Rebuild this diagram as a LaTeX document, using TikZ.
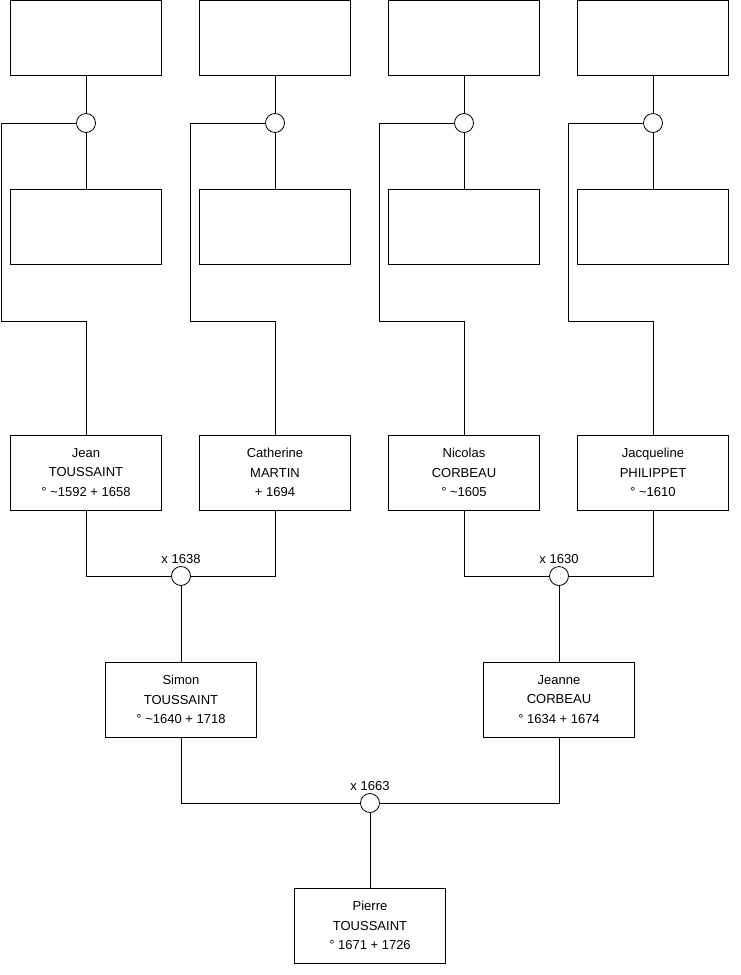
\documentclass[tikz,border=0pt]{standalone}
\usepackage{fontspec}
\setmainfont{Liberation Sans}
\begin{document}
\begin{tikzpicture}[x=1pt,y=-1pt,
  person/.style={draw, line width=0.8pt, minimum width=151pt, minimum height=75pt, inner sep=0pt, align=center, font=\fontsize{13}{19.5}\selectfont},
  union/.style={draw, circle, line width=0.8pt, minimum size=19pt, inner sep=0pt, fill=white},
  link/.style={line width=0.8pt},
  ulabel/.style={font=\fontsize{13}{15}\selectfont, anchor=base}]
\useasboundingbox (0,0) rectangle (740,975);
% top row
\node[person] (t1) at (86,37.5) {};
\node[person] (t2) at (275,37.5) {};
\node[person] (t3) at (464,37.5) {};
\node[person] (t4) at (653,37.5) {};
% second row
\node[person] (s1) at (86,227) {};
\node[person] (s2) at (275,227) {};
\node[person] (s3) at (464,227) {};
\node[person] (s4) at (653,227) {};
% circles
\node[union] (c1) at (86,123) {};
\node[union] (c2) at (275,123) {};
\node[union] (c3) at (464,123) {};
\node[union] (c4) at (653,123) {};
% third row
\node[person] (jean) at (86,472.5) {Jean\\TOUSSAINT\\° \textasciitilde1592 + 1658};
\node[person] (cath) at (275,472.5) {Catherine\\MARTIN\\+ 1694};
\node[person] (nico) at (464,472.5) {Nicolas\\CORBEAU\\° \textasciitilde1605};
\node[person] (jacq) at (653,472.5) {Jacqueline\\PHILIPPET\\° \textasciitilde1610};
% marriages
\node[union] (m1) at (181,576) {};
\node[union] (m2) at (559,576) {};
\node[union] (m3) at (370,803) {};
\node[ulabel] at (181,563) {x 1638};
\node[ulabel] at (559,563) {x 1630};
\node[ulabel] at (370,790) {x 1663};
\node[person] (simon) at (181,699.5) {Simon\\TOUSSAINT\\° \textasciitilde1640 + 1718};
\node[person] (jeanne) at (559,699.5) {Jeanne\\CORBEAU\\° 1634 + 1674};
\node[person] (pierre) at (370,925.5) {Pierre\\TOUSSAINT\\° 1671 + 1726};
% connectors top
\foreach \i in {1,2,3,4}{
  \draw[link] (t\i.south) -- (c\i.north);
  \draw[link] (c\i.south) -- (s\i.north);
}
\draw[link] (c1.west) -- (1,123) -- (1,321) -- (86,321) -- (jean.north);
\draw[link] (c2.west) -- (190,123) -- (190,321) -- (275,321) -- (cath.north);
\draw[link] (c3.west) -- (379,123) -- (379,321) -- (464,321) -- (nico.north);
\draw[link] (c4.west) -- (568,123) -- (568,321) -- (653,321) -- (jacq.north);
% marriages
\draw[link] (jean.south) |- (m1.west);
\draw[link] (cath.south) |- (m1.east);
\draw[link] (m1.south) -- (simon.north);
\draw[link] (nico.south) |- (m2.west);
\draw[link] (jacq.south) |- (m2.east);
\draw[link] (m2.south) -- (jeanne.north);
\draw[link] (simon.south) |- (m3.west);
\draw[link] (jeanne.south) |- (m3.east);
\draw[link] (m3.south) -- (pierre.north);
\end{tikzpicture}
\end{document}
